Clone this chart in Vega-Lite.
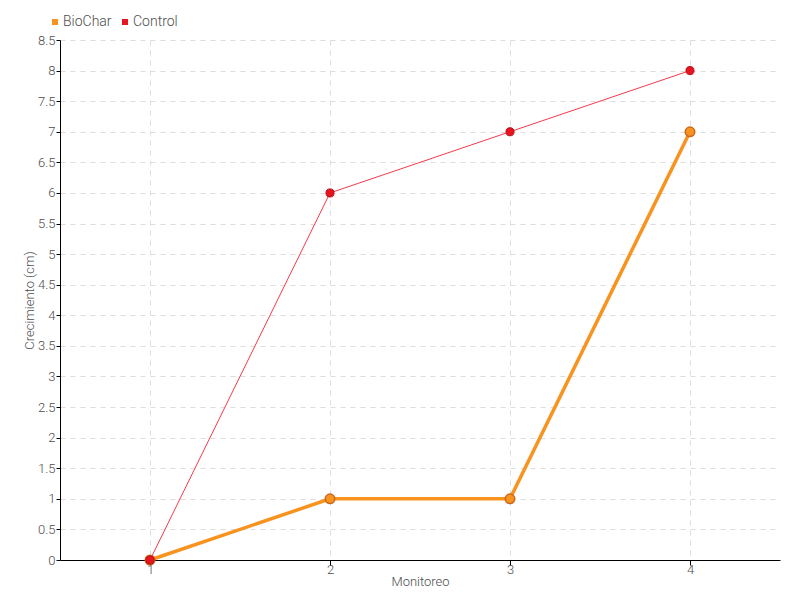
{
  "$schema": "https://vega.github.io/schema/vega-lite/v6.json",
  "width": 720,
  "height": 520,
  "autosize": {"type": "none"},
  "padding": {"left": 60, "top": 40, "right": 20, "bottom": 40},
  "background": "white",
  "config": {
    "font": "Roboto, Liberation Sans, sans-serif",
    "view": {"stroke": null}
  },
  "data": {
    "values": [
      {"Monitoreo": "1", "serie": "BioChar", "valor": 0},
      {"Monitoreo": "2", "serie": "BioChar", "valor": 1},
      {"Monitoreo": "3", "serie": "BioChar", "valor": 1},
      {"Monitoreo": "4", "serie": "BioChar", "valor": 7},
      {"Monitoreo": "1", "serie": "Control", "valor": 0},
      {"Monitoreo": "2", "serie": "Control", "valor": 6},
      {"Monitoreo": "3", "serie": "Control", "valor": 7},
      {"Monitoreo": "4", "serie": "Control", "valor": 8}
    ]
  },
  "encoding": {
    "x": {
      "field": "Monitoreo",
      "type": "ordinal",
      "scale": {"type": "point", "padding": 0.5},
      "axis": {
        "title": "Monitoreo",
        "labelAngle": 0,
        "labelFontSize": 13,
        "labelFontWeight": 300,
        "labelColor": "#4d4d4d",
        "titleFontSize": 13,
        "titleFontWeight": 300,
        "titleColor": "#4d4d4d",
        "titlePadding": -1,
        "domainColor": "#000000",
        "tickColor": "#000000",
        "tickSize": 5,
        "grid": true,
        "gridDash": [5, 5],
        "gridColor": "#dddddd",
        "labelPadding": -2
      }
    },
    "y": {
      "field": "valor",
      "type": "quantitative",
      "scale": {"domain": [0, 8.5], "nice": false},
      "axis": {
        "title": "Crecimiento (cm)",
        "format": "~g",
        "values": [0, 0.5, 1, 1.5, 2, 2.5, 3, 3.5, 4, 4.5, 5, 5.5, 6, 6.5, 7, 7.5, 8, 8.5],
        "labelFontSize": 13,
        "labelFontWeight": 300,
        "labelColor": "#4d4d4d",
        "titleFontSize": 13,
        "titleFontWeight": 300,
        "titleColor": "#4d4d4d",
        "titleX": -24,
        "titleY": 260,
        "domainColor": "#000000",
        "tickColor": "#000000",
        "tickSize": 4,
        "labelPadding": 1,
        "grid": true,
        "gridDash": [5, 5],
        "gridColor": "#dddddd"
      }
    }
  },
  "layer": [
    {
      "transform": [{"filter": "datum.serie === 'BioChar'"}],
      "mark": {"type": "line", "strokeWidth": 3.5, "color": "#f7931e"},
      "encoding": {}
    },
    {
      "transform": [{"filter": "datum.serie === 'BioChar'"}],
      "mark": {"type": "point", "filled": true, "size": 90, "stroke": "#c9681a", "strokeWidth": 1.5, "opacity": 1},
      "encoding": {
        "color": {
          "field": "serie",
          "type": "nominal",
          "scale": {"domain": ["BioChar", "Control"], "range": ["#f7931e", "#e8141f"]},
          "legend": {
            "title": null,
            "orient": "none",
            "direction": "horizontal",
            "legendX": -12,
            "legendY": -25,
            "symbolType": "square",
            "symbolSize": 36,
            "symbolStrokeWidth": 0,
            "labelFontSize": 14,
            "labelFontWeight": 300,
            "labelColor": "#4d4d4d",
            "labelOffset": 1,
            "columnPadding": 6
          }
        }
      }
    },
    {
      "transform": [{"filter": "datum.serie === 'Control'"}],
      "mark": {"type": "line", "strokeWidth": 1, "color": "#f53a4c"},
      "encoding": {}
    },
    {
      "transform": [{"filter": "datum.serie === 'Control'"}],
      "mark": {"type": "point", "filled": true, "size": 65, "stroke": "#b8101a", "strokeWidth": 1, "opacity": 1},
      "encoding": {
        "color": {"field": "serie", "type": "nominal"}
      }
    }
  ]
}
